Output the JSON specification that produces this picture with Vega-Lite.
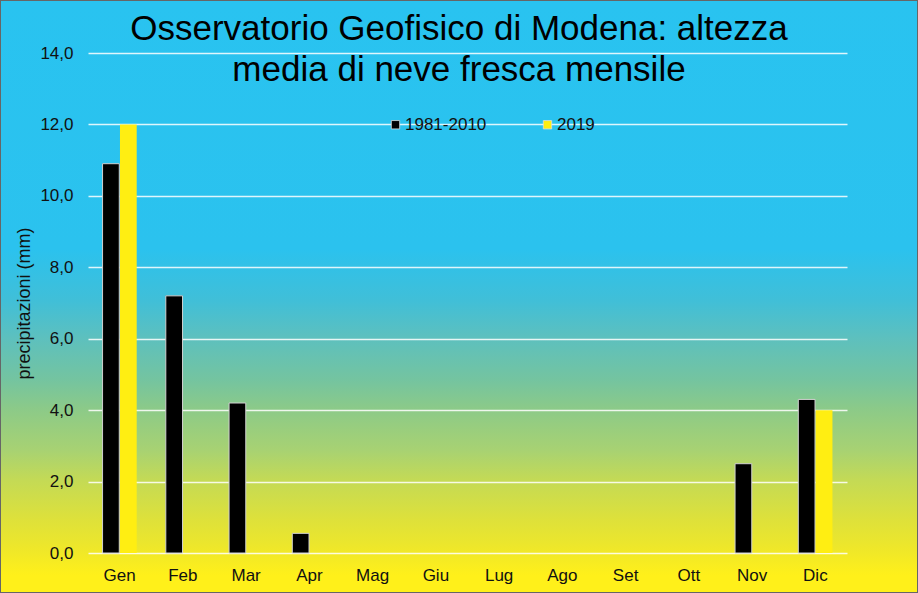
{
  "$schema": "https://vega.github.io/schema/vega-lite/v6.json",
  "width": 918,
  "height": 593,
  "autosize": {"type": "none"},
  "padding": 0,
  "background": "#29C3F0",
  "title": {
    "text": ["Osservatorio Geofisico di Modena: altezza", "media di neve fresca mensile"],
    "font": "Liberation Sans",
    "fontSize": 35,
    "fontWeight": "normal",
    "color": "#000000",
    "anchor": "middle",
    "frame": "group",
    "baseline": "top",
    "lineHeight": 41.5,
    "offset": -88
  },
  "data": {
    "values": [
      {"mese": "Gen", "serie": "1981-2010", "v": 10.9},
      {"mese": "Gen", "serie": "2019", "v": 12.0},
      {"mese": "Feb", "serie": "1981-2010", "v": 7.2},
      {"mese": "Feb", "serie": "2019", "v": 0},
      {"mese": "Mar", "serie": "1981-2010", "v": 4.2},
      {"mese": "Mar", "serie": "2019", "v": 0},
      {"mese": "Apr", "serie": "1981-2010", "v": 0.55},
      {"mese": "Apr", "serie": "2019", "v": 0},
      {"mese": "Mag", "serie": "1981-2010", "v": 0},
      {"mese": "Mag", "serie": "2019", "v": 0},
      {"mese": "Giu", "serie": "1981-2010", "v": 0},
      {"mese": "Giu", "serie": "2019", "v": 0},
      {"mese": "Lug", "serie": "1981-2010", "v": 0},
      {"mese": "Lug", "serie": "2019", "v": 0},
      {"mese": "Ago", "serie": "1981-2010", "v": 0},
      {"mese": "Ago", "serie": "2019", "v": 0},
      {"mese": "Set", "serie": "1981-2010", "v": 0},
      {"mese": "Set", "serie": "2019", "v": 0},
      {"mese": "Ott", "serie": "1981-2010", "v": 0},
      {"mese": "Ott", "serie": "2019", "v": 0},
      {"mese": "Nov", "serie": "1981-2010", "v": 2.5},
      {"mese": "Nov", "serie": "2019", "v": 0},
      {"mese": "Dic", "serie": "1981-2010", "v": 4.3},
      {"mese": "Dic", "serie": "2019", "v": 4.0}
    ]
  },
  "mark": {"type": "bar"},
  "encoding": {
    "x": {
      "field": "mese",
      "type": "nominal",
      "sort": null,
      "scale": {
        "domain": ["Gen", "Feb", "Mar", "Apr", "Mag", "Giu", "Lug", "Ago", "Set", "Ott", "Nov", "Dic"],
        "range": [88, 847],
        "paddingInner": 0.46,
        "paddingOuter": 0.23
      },
      "axis": {
        "title": null,
        "orient": "bottom",
        "offset": -40,
        "domain": false,
        "ticks": false,
        "tickSize": 0,
        "labelPadding": 14,
        "labelAngle": 0,
        "labelFont": "Liberation Sans",
        "labelFontSize": 17,
        "labelColor": "#111111",
        "grid": false
      }
    },
    "xOffset": {
      "field": "serie",
      "type": "nominal",
      "scale": {"domain": ["1981-2010", "2019"], "paddingInner": 0.04}
    },
    "y": {
      "field": "v",
      "type": "quantitative",
      "scale": {"domain": [0, 14], "range": [553, 53], "nice": false},
      "axis": {
        "title": "precipitazioni  (mm)",
        "titleFont": "Liberation Sans",
        "titleFontSize": 18,
        "titleFontWeight": "normal",
        "titleColor": "#111111",
        "titlePadding": 6,
        "orient": "left",
        "offset": -88,
        "values": [0, 2, 4, 6, 8, 10, 12, 14],
        "labelExpr": "replace(format(datum.value, '.1f'), '.', ',')",
        "domain": false,
        "ticks": false,
        "tickSize": 0,
        "labelPadding": 15,
        "labelFont": "Liberation Sans",
        "labelFontSize": 17,
        "labelColor": "#111111",
        "grid": true,
        "gridColor": "#FFFFFF",
        "gridOpacity": 0.85,
        "gridWidth": 1.6
      }
    },
    "color": {
      "field": "serie",
      "type": "nominal",
      "scale": {"domain": ["1981-2010", "2019"], "range": ["#000000", "#FFEE12"]},
      "legend": {
        "title": null,
        "orient": "none",
        "direction": "horizontal",
        "legendX": 387,
        "legendY": 116,
        "padding": 0,
        "symbolType": "square",
        "symbolSize": 70,
        "symbolStrokeColor": "#dddddd",
        "symbolStrokeWidth": 0.8,
        "labelFont": "Liberation Sans",
        "labelFontSize": 17,
        "labelColor": "#111111",
        "labelOffset": 1,
        "columnPadding": 52
      }
    },
    "stroke": {
      "condition": {"test": "datum.serie === '1981-2010' && datum.v > 0", "value": "#d0d0d0"},
      "value": "transparent"
    },
    "strokeWidth": {"value": 1}
  },
  "config": {
    "view": {
      "stroke": "#666666",
      "strokeWidth": 2,
      "fill": {
        "gradient": "linear",
        "x1": 0, "y1": 0, "x2": 0, "y2": 1,
        "stops": [
          {"offset": 0, "color": "#29C3F0"},
          {"offset": 0.42, "color": "#2BC2EE"},
          {"offset": 0.506, "color": "#40BFD8"},
          {"offset": 0.57, "color": "#5DC0BE"},
          {"offset": 0.64, "color": "#74C4A0"},
          {"offset": 0.69, "color": "#8CCA88"},
          {"offset": 0.76, "color": "#A8D272"},
          {"offset": 0.81, "color": "#C4DA55"},
          {"offset": 0.877, "color": "#DEE13A"},
          {"offset": 0.93, "color": "#F0E828"},
          {"offset": 0.97, "color": "#FFF01A"},
          {"offset": 1, "color": "#FFF01A"}
        ]
      }
    }
  }
}
